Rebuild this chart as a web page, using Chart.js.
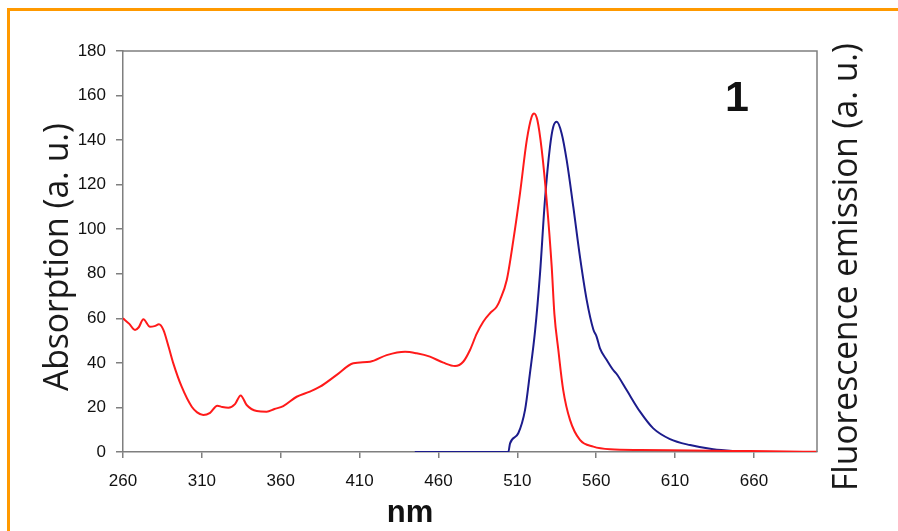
<!DOCTYPE html>
<html>
<head>
<meta charset="utf-8">
<script src="https://cdn.jsdelivr.net/npm/chart.js@4/dist/chart.umd.min.js"></script>
<style>
  html, body { margin: 0; padding: 0; background: #fff; overflow: hidden; }
  #wrap { position: relative; width: 898px; height: 531px; }
  #frame { position: absolute; left: 7px; top: 8px; width: 1000px; height: 1000px;
           border-top: 3px solid #FF9900; border-left: 3px solid #FF9900; box-sizing: border-box; }
  canvas { position: absolute; left: 0; top: 0; }
</style>
</head>
<body>
<div id="wrap">
  <div id="frame"></div>
  <canvas id="c" width="898" height="531"></canvas>
</div>
<script>
// Absorption spectrum (red)
const absWavelength = [260, 264, 267.6, 270, 272.9, 277.1, 280, 282.8, 285.6, 289, 291.9, 297.2, 303.6, 307, 310.9, 315.2, 319.8, 323, 326.8, 331,
  334.6, 338.4, 344.8, 351.1, 356, 361.6, 370.1, 378, 384.9, 395.5, 406, 416.6, 427.2, 438.8, 446.2, 454.6, 463.1, 470.5, 475.7, 480,
  484.2, 488.4, 492.7, 496.9, 499, 503.3, 507.5, 511.7, 516, 519.1, 520.6, 522.7, 525.5, 528.6, 531.8, 533.5, 536, 539.1, 543.4, 549.7,
  558.2, 568.8, 588, 620, 646.5, 670, 700];
const absValue = [60, 57.5, 54.8, 56, 59.6, 56.2, 56.5, 57.3, 54.8, 47, 39.8, 29.3, 20.3, 17.8, 16.6, 17.6, 20.8, 20.2, 19.9, 21.5,
  25.4, 21.1, 18.4, 18.1, 19.3, 20.6, 24.8, 27, 29.3, 34.6, 39.8, 40.5, 43.5, 45.0, 44.3, 42.8, 40.1, 38.6, 40.5, 45.8,
  53, 58.5, 62.3, 65.2, 68.2, 77.2, 95.2, 116.1, 140, 150.5, 152, 149, 135.5, 113, 83.2, 62, 45.8, 27.8, 14.4, 5.4,
  2.4, 1.2, 0.9, 0.7, 0.5, 0.3, 0.1];

// Fluorescence emission spectrum (blue)
const emWavelength = [445, 504.3, 505.4, 510.6, 514.9, 518, 521.2, 524.4, 527.5, 530.7, 532.8, 535, 538.1, 541.3, 545.5, 549.7,
  554, 558.2, 560.3, 562.4, 566.7, 570.8, 573, 579.3, 587.8, 596.2, 606.8, 619.5, 634.2, 646.9, 659.6];
const emValue = [0, 0, 3.9, 8.4, 18.9, 35.3, 54, 80.2, 113, 137, 146, 148.2, 143, 131, 110, 87.7,
  68.2, 55, 51.7, 46.5, 41.3, 36.8, 35, 27.8, 18.1, 10.6, 5.8, 3.1, 1.2, 0.4, 0];

const xTickValues = [260, 310, 360, 410, 460, 510, 560, 610, 660];
const xRange = [260, 700];
const yRange = [0, 180];
const yStep = 20;

const xAxisTitle = 'nm';
const leftAxisTitle = 'Absorption (a. u.)';
const rightAxisTitle = 'Fluorescence emission (a. u.)';
const panelLabel = '1';

const toPoints = (xs, ys) => xs.map((x, i) => ({ x: x, y: ys[i] }));

const axisGray = '#7f7f7f';
const tickFont = { family: '"Liberation Sans", Arial, sans-serif', size: 17 };

// Frame around the plot area plus the axis titles and panel number
const decorations = {
  id: 'decorations',
  afterDraw(chart) {
    const { ctx, chartArea: a } = chart;
    ctx.save();
    ctx.strokeStyle = axisGray;
    ctx.lineWidth = 1.5;
    ctx.beginPath();
    ctx.moveTo(a.left, a.top);
    ctx.lineTo(a.right, a.top);
    ctx.lineTo(a.right, a.bottom);
    ctx.stroke();

    ctx.fillStyle = '#111';
    ctx.font = 'bold 31px "Liberation Sans", Arial, sans-serif';
    ctx.textAlign = 'center';
    ctx.textBaseline = 'alphabetic';
    ctx.fillText(xAxisTitle, 410, 522);

    ctx.font = 'bold 43px "Liberation Sans", Arial, sans-serif';
    ctx.fillText(panelLabel, 737, 111);

    const rotated = (text, baseX, midY, len) => {
      ctx.save();
      ctx.font = '35px "Open Sans", sans-serif';
      const w = ctx.measureText(text).width;
      ctx.translate(baseX, midY);
      ctx.rotate(-Math.PI / 2);
      ctx.scale(len / w, 1);
      ctx.textAlign = 'center';
      ctx.textBaseline = 'alphabetic';
      ctx.fillStyle = '#1a1a1a';
      ctx.fillText(text, 0, 0);
      ctx.restore();
    };
    rotated(leftAxisTitle, 68, 257, 268);
    rotated(rightAxisTitle, 857, 267, 448);
    ctx.restore();
  }
};

new Chart(document.getElementById('c'), {
  type: 'line',
  data: {
    datasets: [
      {
        label: 'Absorption',
        data: toPoints(absWavelength, absValue),
        borderColor: '#ff1a1a',
        borderWidth: 2,
        pointRadius: 0,
        cubicInterpolationMode: 'monotone',
        fill: false
      },
      {
        label: 'Fluorescence emission',
        data: toPoints(emWavelength, emValue),
        borderColor: '#1c1c8c',
        borderWidth: 2,
        pointRadius: 0,
        cubicInterpolationMode: 'monotone',
        fill: false
      }
    ]
  },
  options: {
    responsive: false,
    devicePixelRatio: 1,
    animation: false,
    layout: { padding: { left: 0, top: 51, right: 81, bottom: 0 } },
    plugins: { legend: { display: false }, tooltip: { enabled: false } },
    scales: {
      x: {
        type: 'linear',
        min: xRange[0],
        max: xRange[1],
        afterBuildTicks: (scale) => { scale.ticks = xTickValues.map(v => ({ value: v })); },
        afterFit: (scale) => { scale.height = 79; },
        grid: { drawOnChartArea: false, drawTicks: true, tickLength: 6, color: axisGray, lineWidth: 1.5 },
        border: { display: true, color: axisGray, width: 1.5 },
        ticks: { font: tickFont, color: '#111', padding: 13, maxRotation: 0, autoSkip: false }
      },
      y: {
        type: 'linear',
        min: yRange[0],
        max: yRange[1],
        afterFit: (scale) => { scale.width = 123; },
        grid: { drawOnChartArea: false, drawTicks: true, tickLength: 7, color: axisGray, lineWidth: 1.5 },
        border: { display: true, color: axisGray, width: 1.5 },
        ticks: { stepSize: yStep, font: tickFont, color: '#111', padding: 10 }
      }
    }
  },
  plugins: [decorations]
});
</script>
</body>
</html>
